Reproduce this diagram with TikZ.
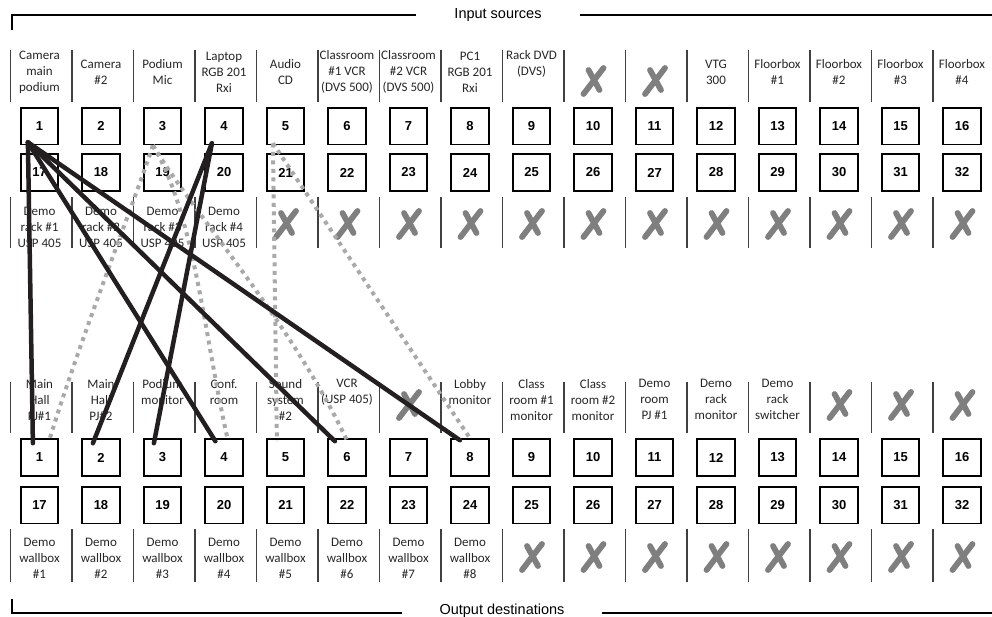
\documentclass[tikz,border=0pt]{standalone}
\usepackage{fontspec}
\setmainfont{Carlito}
\newfontfamily\helv{Liberation Sans}
\definecolor{lblgray}{HTML}{262626}
\definecolor{xgray}{HTML}{7F7F7F}
\definecolor{dotgray}{HTML}{A9A9A9}
\definecolor{inkblack}{HTML}{231F20}
\tikzset{
  numbox/.style={draw=black, line width=1.8pt, fill=white, minimum width=37.4pt, minimum height=36.8pt, inner sep=0pt, font=\helv\bfseries\fontsize{13}{13}\selectfont},
  lbl/.style={align=center, inner sep=0pt, text=lblgray, font=\fontsize{13}{16}\selectfont},
  sepline/.style={draw=black!75, line width=1.2pt},
  xstroke/.style={draw=xgray, line width=5.8pt, line cap=round},
  xmk/.pic={\draw[xstroke] (-9.5,13) -- (10.5,-13); \draw[xstroke] (-4.5,-11) -- (6.5,9);},
  wire/.style={draw=inkblack, line width=4.5pt, line cap=round},
  dotwire/.style={draw=dotgray, line width=4pt, dash pattern=on 4pt off 4.5pt},
  bracket/.style={draw=black, line width=2.8pt},
  title/.style={font=\helv\fontsize{14.5}{14.5}\selectfont, inner ysep=0pt}
}
\begin{document}
\begin{tikzpicture}[x=1pt,y=-1pt]
\useasboundingbox (0,0) rectangle (992,616);
% titles and brackets
\node[title, inner xsep=38pt] (tin) at (498,15) {Input sources};
\draw[bracket] (12,30) -- (12,15) -- (tin.west);
\draw[bracket] (tin.east) -- (992,15);
\node[title, inner xsep=37pt] (tout) at (502,611) {Output destinations};
\draw[bracket] (12,599) -- (12,613) -- (tout.west |- 0,613);
\draw[bracket] (tout.east |- 0,613) -- (992,613);
% boxes and separators
\foreach \i in {1,...,16}{
  \pgfmathsetmacro{\cx}{39.5+61.5*(\i-1)}
  \pgfmathtruncatemacro{\j}{\i+16}
  \node[numbox] (i\i) at (\cx,126) {\i};
  \node[numbox] (i\j) at (\cx,172.5) {\j};
  \node[numbox] (o\i) at (\cx,457.5) {\i};
  \node[numbox] (o\j) at (\cx,505) {\j};
  \draw[sepline] (\cx-29,50) -- (\cx-29,102);
  \draw[sepline] (\cx-29,197) -- (\cx-29,248);
  \draw[sepline] (\cx-29,382) -- (\cx-29,433);
  \draw[sepline] (\cx-29,529) -- (\cx-29,582);
}
% input labels (top)
\node[lbl] (it1) at (39.5,72) {Camera\\main\\podium};
\node[lbl] (it2) at (101,72) {Camera\\\#2};
\node[lbl] (it3) at (162.5,72) {Podium\\Mic};
\node[lbl] (it4) at (224,72) {Laptop\\RGB 201\\Rxi};
\node[lbl] (it5) at (285.5,72) {Audio\\CD};
\node[lbl] (it6) at (347,72) {Classroom\\\#1 VCR\\(DVS 500)};
\node[lbl] (it7) at (408.5,72) {Classroom\\\#2 VCR\\(DVS 500)};
\node[lbl] (it8) at (470,72) {PC1\\RGB 201\\Rxi};
\node[lbl] (it9) at (531.5,64) {Rack DVD\\(DVS)};
\node[lbl] (it12) at (716,72) {VTG\\300};
\node[lbl] (it13) at (777.5,72) {Floorbox\\\#1};
\node[lbl] (it14) at (839,72) {Floorbox\\\#2};
\node[lbl] (it15) at (900.5,72) {Floorbox\\\#3};
\node[lbl] (it16) at (962,72) {Floorbox\\\#4};
\foreach \c in {10,11}{\pic at ({39.5+61.5*(\c-1)},81) {xmk};}
% input labels (bottom)
\node[lbl] (ib1) at (39.5,227) {Demo\\rack \#1\\USP 405};
\node[lbl] (ib2) at (101,227) {Demo\\rack \#2\\USP 405};
\node[lbl] (ib3) at (162.5,227) {Demo\\rack \#3\\USP 405};
\node[lbl] (ib4) at (224,227) {Demo\\rack \#4\\USP 405};
\foreach \c in {5,...,16}{\pic at ({39.5+61.5*(\c-1)},224) {xmk};}
% output labels (top)
\node[lbl, anchor=north] (ot1) at (39.5,379) {Main\\Hall\\PJ\#1};
\node[lbl, anchor=north] (ot2) at (101,379) {Main\\Hall\\PJ\#2};
\node[lbl, anchor=north] (ot3) at (162.5,379) {Podium\\monitor};
\node[lbl, anchor=north] (ot4) at (224,379) {Conf.\\room};
\node[lbl, anchor=north] (ot5) at (285.5,379) {Sound\\system\\\#2};
\node[lbl, anchor=north] (ot6) at (347,379) {VCR\\(USP 405)};
\node[lbl, anchor=north] (ot8) at (470,379) {Lobby\\monitor};
\node[lbl, anchor=north] (ot9) at (531.5,379) {Class\\room \#1\\monitor};
\node[lbl, anchor=north] (ot10) at (593,379) {Class\\room \#2\\monitor};
\node[lbl, anchor=north] (ot11) at (654.5,379) {Demo\\room\\PJ \#1};
\node[lbl, anchor=north] (ot12) at (716,379) {Demo\\rack\\monitor};
\node[lbl, anchor=north] (ot13) at (777.5,379) {Demo\\rack\\switcher};
\foreach \c in {7,14,15,16}{\pic at ({39.5+61.5*(\c-1)},405) {xmk};}
% output labels (bottom)
\foreach \c in {1,...,8}{
  \node[lbl] (ob\c) at ({39.5+61.5*(\c-1)},558) {Demo\\wallbox\\\#\c};
}
\foreach \c in {9,...,16}{\pic at ({39.5+61.5*(\c-1)},557) {xmk};}
% dotted connectors
\draw[dotwire] ([shift={(10,0)}]i3.south west) .. controls +(-18,55) and +(30,-98) .. ([shift={(30,0)}]o1.north west);
\draw[dotwire] ([shift={(10,0)}]i3.south west) .. controls +(42,70) and +(-23,-100) .. ([shift={(23.5,2)}]o4.north west);
\draw[dotwire] ([shift={(10,0)}]i3.south west) .. controls +(42,70) and +(-57,-120) .. ([shift={(19.5,2)}]o6.north west);
\draw[dotwire] ([shift={(7,-2)}]i5.south west) -- ([shift={(11,3)}]o5.north west);
\draw[dotwire] ([shift={(7,-2)}]i5.south west) -- ([shift={(19.5,0)}]o8.north west);
% solid connectors
\draw[wire] ([shift={(8,-3)}]i1.south west) -- ([shift={(13,5)}]o1.north west);
\draw[wire] ([shift={(8,-3)}]i1.south west) -- ([shift={(11,3)}]o4.north west);
\draw[wire] ([shift={(8,-3)}]i1.south west) -- ([shift={(7.5,3)}]o6.north west);
\draw[wire] ([shift={(8,-3)}]i1.south west) -- ([shift={(9.5,2)}]o8.north west);
\draw[wire] ([shift={(7.5,-2)}]i4.south west) -- ([shift={(11.5,5)}]o2.north west);
\draw[wire] ([shift={(7.5,-2)}]i4.south west) -- ([shift={(11,5)}]o3.north west);
\end{tikzpicture}
\end{document}
